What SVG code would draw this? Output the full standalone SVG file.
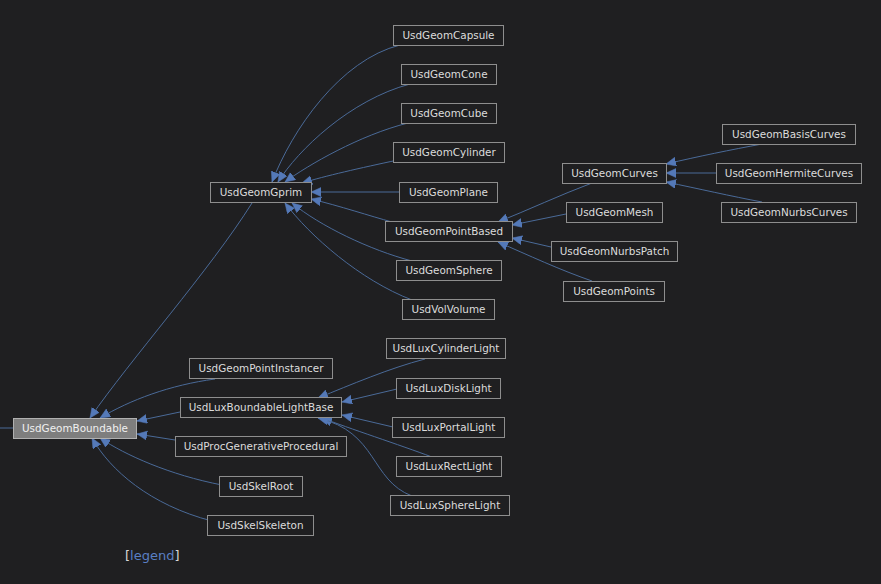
<svg xmlns="http://www.w3.org/2000/svg" width="881" height="584" viewBox="0 0 881 584">
  <style>
    .bg { fill: #1f1f21; }
    .node rect { fill: #1f1f21; stroke: #8e8e8e; stroke-width: 1; }
    .node.root rect { fill: #7e7e7e; stroke: #b0b0b0; }
    .node text { font-family: "DejaVu Sans", sans-serif; font-size: 10.4px; fill: #dcdcdc; text-anchor: middle; }
    .node.root text { fill: #f0f0f0; }
    .edge { fill: none; stroke: #4a6a98; stroke-width: 1; marker-end: url(#arrow); }
    .legend { font-family: "DejaVu Sans", sans-serif; font-size: 13px; }
  </style>
  <defs>
    <marker id="arrow" markerUnits="userSpaceOnUse" markerWidth="12" markerHeight="11" refX="10" refY="4.5" orient="auto">
      <path d="M0,0 L10,4.5 L0,9 z" fill="#5479b8" stroke="#5479b8" stroke-width="0.5"/>
    </marker>
  </defs>
  <rect class="bg" x="0" y="0" width="881" height="584"/>

  <!-- inheritance connectors: child -> parent -->
  <g id="connectors">
    <line x1="0" y1="428" x2="13" y2="428" stroke="#4a6a98" stroke-width="1"/>
    <!-- into UsdGeomBoundable -->
    <path class="edge" d="M252,203 C210,270 130,360 90,418"/>
    <path class="edge" d="M215,379 C170,385 130,400 100,418"/>
    <path class="edge" d="M180,412 L137,421"/>
    <path class="edge" d="M175,440 L137,434"/>
    <path class="edge" d="M222,485 C170,475 125,455 100,438"/>
    <path class="edge" d="M212,521 C150,505 110,470 92,438"/>
    <!-- into UsdGeomGprim -->
    <path class="edge" d="M400,45 C340,60 292,130 272,182"/>
    <path class="edge" d="M410,84 C350,100 298,150 278,182"/>
    <path class="edge" d="M408,123 C360,135 308,165 285,182"/>
    <path class="edge" d="M398,160 C360,168 325,176 302,183"/>
    <path class="edge" d="M399,192 L311,192"/>
    <path class="edge" d="M392,222 C370,216 340,206 311,199"/>
    <path class="edge" d="M412,261 C370,250 320,226 292,203"/>
    <path class="edge" d="M412,300 C360,280 310,236 285,203"/>
    <!-- into UsdGeomPointBased -->
    <path class="edge" d="M592,183 C560,195 528,210 498,222"/>
    <path class="edge" d="M566,214 L512,225"/>
    <path class="edge" d="M551,247 L512,238"/>
    <path class="edge" d="M592,281 C560,270 528,255 498,242"/>
    <!-- into UsdGeomCurves -->
    <path class="edge" d="M762,144 C730,150 700,156 666,164"/>
    <path class="edge" d="M716,173 L666,173"/>
    <path class="edge" d="M762,202 C730,196 700,189 666,182"/>
    <!-- into UsdLuxBoundableLightBase -->
    <path class="edge" d="M425,359 C390,368 350,385 318,398"/>
    <path class="edge" d="M397,389 L342,402"/>
    <path class="edge" d="M393,427 L342,415"/>
    <path class="edge" d="M432,457 C400,445 348,428 322,418"/>
    <path class="edge" d="M412,496 C370,480 378,432 318,418"/>
  </g>

  <g id="UsdGeomBoundable" class="node root"><rect x="13.5" y="418.5" width="123" height="20"/><text x="75" y="432">UsdGeomBoundable</text></g>
  <g id="UsdGeomGprim" class="node"><rect x="210.5" y="182.5" width="101" height="20"/><text x="261" y="196">UsdGeomGprim</text></g>
  <g id="UsdGeomCapsule" class="node"><rect x="393.5" y="25.5" width="110" height="20"/><text x="448.5" y="39">UsdGeomCapsule</text></g>
  <g id="UsdGeomCone" class="node"><rect x="401.5" y="64.5" width="95" height="20"/><text x="449" y="78">UsdGeomCone</text></g>
  <g id="UsdGeomCube" class="node"><rect x="401.5" y="103.5" width="95" height="20"/><text x="449" y="117">UsdGeomCube</text></g>
  <g id="UsdGeomCylinder" class="node"><rect x="393.5" y="142.5" width="111" height="20"/><text x="449" y="156">UsdGeomCylinder</text></g>
  <g id="UsdGeomPlane" class="node"><rect x="399.5" y="182.5" width="98" height="20"/><text x="448.5" y="196">UsdGeomPlane</text></g>
  <g id="UsdGeomPointBased" class="node"><rect x="385.5" y="221.5" width="127" height="20"/><text x="449" y="235">UsdGeomPointBased</text></g>
  <g id="UsdGeomSphere" class="node"><rect x="396.5" y="260.5" width="105" height="20"/><text x="449" y="274">UsdGeomSphere</text></g>
  <g id="UsdVolVolume" class="node"><rect x="402.5" y="299.5" width="92" height="20"/><text x="448.5" y="313">UsdVolVolume</text></g>
  <g id="UsdGeomCurves" class="node"><rect x="562.5" y="163.5" width="104" height="20"/><text x="614.5" y="177">UsdGeomCurves</text></g>
  <g id="UsdGeomMesh" class="node"><rect x="566.5" y="202.5" width="96" height="20"/><text x="614.5" y="216">UsdGeomMesh</text></g>
  <g id="UsdGeomNurbsPatch" class="node"><rect x="551.5" y="241.5" width="126" height="20"/><text x="614.5" y="255">UsdGeomNurbsPatch</text></g>
  <g id="UsdGeomPoints" class="node"><rect x="563.5" y="281.5" width="101" height="20"/><text x="614" y="295">UsdGeomPoints</text></g>
  <g id="UsdGeomBasisCurves" class="node"><rect x="722.5" y="124.5" width="133" height="20"/><text x="789" y="138">UsdGeomBasisCurves</text></g>
  <g id="UsdGeomHermiteCurves" class="node"><rect x="716.5" y="163.5" width="145" height="20"/><text x="789" y="177">UsdGeomHermiteCurves</text></g>
  <g id="UsdGeomNurbsCurves" class="node"><rect x="721.5" y="202.5" width="135" height="20"/><text x="789" y="216">UsdGeomNurbsCurves</text></g>
  <g id="UsdGeomPointInstancer" class="node"><rect x="189.5" y="358.5" width="143" height="20"/><text x="261" y="372">UsdGeomPointInstancer</text></g>
  <g id="UsdLuxBoundableLightBase" class="node"><rect x="180.5" y="397.5" width="161" height="20"/><text x="261" y="411">UsdLuxBoundableLightBase</text></g>
  <g id="UsdProcGenerativeProcedural" class="node"><rect x="175.5" y="436.5" width="171" height="20"/><text x="261" y="450">UsdProcGenerativeProcedural</text></g>
  <g id="UsdSkelRoot" class="node"><rect x="219.5" y="476.5" width="83" height="20"/><text x="261" y="490">UsdSkelRoot</text></g>
  <g id="UsdSkelSkeleton" class="node"><rect x="207.5" y="515.5" width="106" height="20"/><text x="260.5" y="529">UsdSkelSkeleton</text></g>
  <g id="UsdLuxCylinderLight" class="node"><rect x="386.5" y="338.5" width="119" height="20"/><text x="446" y="352">UsdLuxCylinderLight</text></g>
  <g id="UsdLuxDiskLight" class="node"><rect x="396.5" y="378.5" width="104" height="20"/><text x="448.5" y="392">UsdLuxDiskLight</text></g>
  <g id="UsdLuxPortalLight" class="node"><rect x="392.5" y="417.5" width="112" height="20"/><text x="448.5" y="431">UsdLuxPortalLight</text></g>
  <g id="UsdLuxRectLight" class="node"><rect x="396.5" y="456.5" width="105" height="20"/><text x="449" y="470">UsdLuxRectLight</text></g>
  <g id="UsdLuxSphereLight" class="node"><rect x="390.5" y="495.5" width="119" height="20"/><text x="450" y="509">UsdLuxSphereLight</text></g>

  <text class="legend" x="125" y="560"><tspan fill="#d8d8d8">[</tspan><tspan fill="#5a7fc4">legend</tspan><tspan fill="#d8d8d8">]</tspan></text>
</svg>
